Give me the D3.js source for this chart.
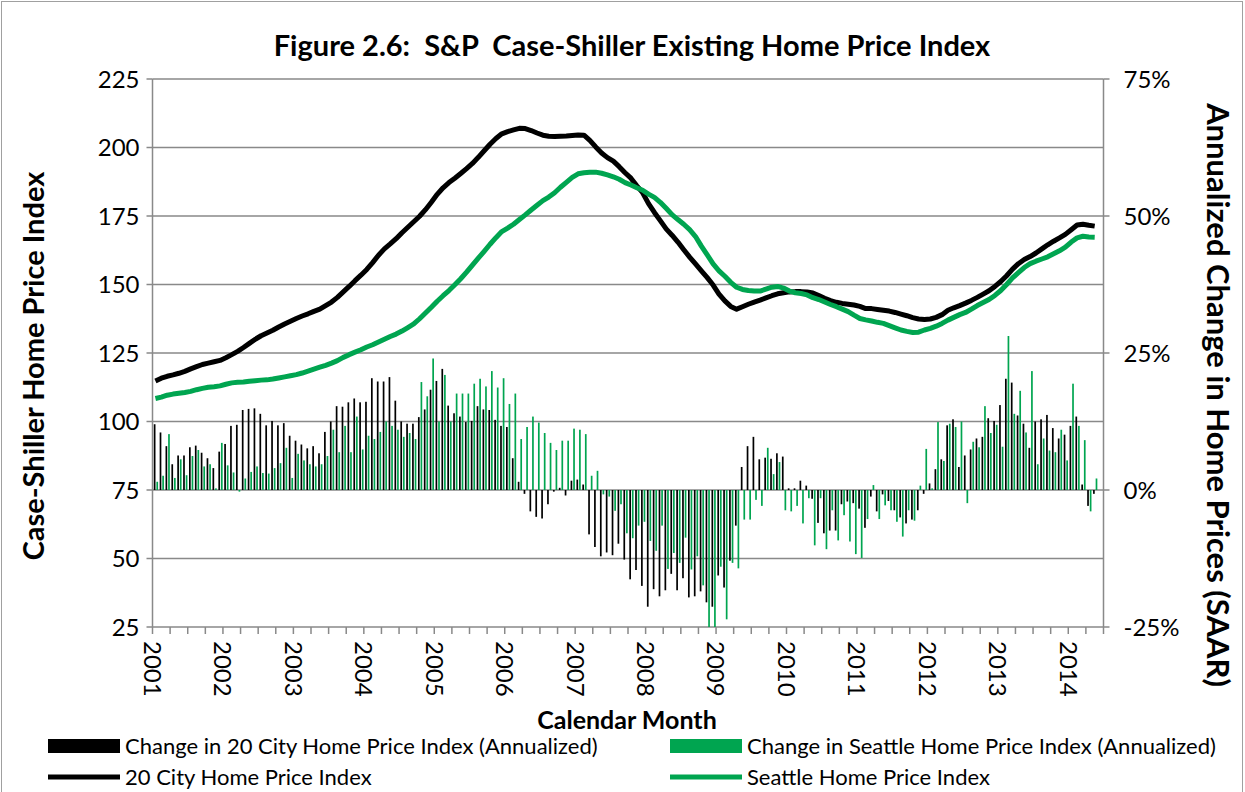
<!DOCTYPE html>
<html>
<head>
<meta charset="utf-8">
<script src="https://cdn.jsdelivr.net/npm/d3@7"></script>
<style>
  body { margin: 0; background: #fff; }
  svg { display: block; font-family: Lato, "Open Sans", sans-serif; }
  text { white-space: pre; }
</style>
</head>
<body>
<svg id="chart" width="1245" height="792"></svg>
<script>
// monthly categories, Jan 2001 .. Jun 2014 (last slot has no data)
const months = d3.timeMonths(new Date(2001, 0, 1), new Date(2014, 6, 1));
const yearLabels = ["2001","2002","2003","2004","2005","2006","2007","2008","2009","2010","2011","2012","2013","2014"];
const leftTicks = [25, 50, 75, 100, 125, 150, 175, 200, 225];
const rightTicks = [-25, 0, 25, 50, 75];

// S&P Case-Shiller 20 city composite (SA)
const cityIndex = [
  114.8,115.8,116.5,117.0,117.6,118.3,119.2,120.0,120.8,121.3,121.8,122.3,
  123.3,124.4,125.6,127.0,128.5,130.0,131.3,132.3,133.3,134.5,135.6,136.6,
  137.6,138.5,139.3,140.2,141.0,142.3,143.6,145.3,147.3,149.3,151.4,153.4,
  155.5,158.0,160.7,163.0,164.8,166.7,168.9,170.9,172.9,174.9,177.3,180.0,
  182.9,185.3,187.2,188.8,190.5,192.3,194.2,196.4,198.8,201.2,203.3,205.0,
  205.8,206.4,207.0,206.9,206.2,205.3,204.5,204.1,204.0,204.1,204.2,204.4,
  204.6,204.5,202.6,200.2,198.0,196.3,195.0,193.0,190.8,188.8,186.0,183.5,
  179.5,176.3,173.3,170.3,168.0,165.5,162.7,160.0,157.5,155.0,152.5,149.8,
  146.5,144.0,142.0,141.0,141.9,142.8,143.6,144.3,145.1,145.9,146.6,147.0,
  147.3,147.4,147.4,147.3,146.9,146.0,145.0,144.1,143.5,143.1,142.8,142.5,
  142.0,141.2,141.2,140.9,140.6,140.3,139.8,139.2,138.6,137.9,137.4,137.2,
  137.4,138.0,139.0,140.6,141.5,142.3,143.2,144.2,145.3,146.5,147.7,149.3,
  151.1,153.2,155.6,157.6,159.1,160.2,161.5,163.0,164.5,165.8,167.0,168.3,
  170.0,171.7,172.0,171.6,171.3
];

// Seattle home price index (SA)
const seattleIndex = [
  108.4,108.9,109.6,110.0,110.3,110.6,111.0,111.6,112.1,112.5,112.7,113.0,
  113.6,114.1,114.3,114.4,114.7,114.9,115.1,115.2,115.5,115.9,116.3,116.7,
  117.1,117.7,118.4,119.1,119.8,120.5,121.3,122.2,123.4,124.4,125.3,126.2,
  127.2,128.0,129.0,130.0,131.0,131.9,133.0,134.3,135.6,137.5,139.6,141.7,
  143.9,145.9,147.8,149.9,152.1,154.5,157.1,159.6,162.1,164.7,167.1,169.3,
  170.6,172.0,173.7,175.4,177.2,178.9,180.6,181.9,183.5,185.5,187.3,189.1,
  190.4,190.8,191.0,191.0,190.6,190.0,189.3,188.4,187.2,186.3,185.3,184.4,
  183.0,181.8,180.0,177.8,175.5,173.7,172.0,170.0,167.5,164.0,160.8,157.5,
  155.0,153.0,150.8,149.0,148.2,147.8,147.6,147.6,148.3,149.0,149.3,148.7,
  147.6,147.0,146.7,146.2,145.2,144.5,143.6,142.7,141.9,141.0,140.1,138.8,
  137.6,137.1,136.7,136.2,135.8,135.0,134.2,133.4,132.9,132.5,132.6,133.4,
  134.0,134.8,135.8,137.0,138.0,139.0,139.8,141.0,142.3,143.4,144.5,146.0,
  147.8,150.0,152.4,154.3,156.2,157.6,158.5,159.3,160.1,161.2,162.3,163.6,
  165.5,167.0,167.6,167.3,167.2
];

// annualized monthly change, percent
const cityChange = [
  12.0,10.5,8.0,4.7,6.3,6.3,7.8,8.1,6.8,5.8,4.0,7.0,
  8.4,11.7,11.9,14.6,14.8,14.9,13.9,11.8,12.6,11.8,12.2,9.9,
  9.0,8.3,7.6,8.0,6.7,10.6,12.5,15.3,15.2,16.0,16.7,16.0,
  16.1,20.4,19.8,19.8,20.6,16.3,12.5,12.1,12.1,13.3,14.7,18.3,
  19.9,22.1,15.4,14.0,13.4,12.4,12.6,15.3,14.7,14.6,12.8,11.7,
  11.5,5.8,1.5,-0.7,-3.9,-4.9,-5.2,-2.6,-0.3,0.4,-1.0,1.7,
  1.9,1.0,-8.1,-10.4,-12.1,-11.4,-11.9,-9.8,-12.7,-16.3,-14.6,-17.5,
  -21.3,-18.1,-19.4,-18.3,-15.3,-18.3,-16.1,-19.6,-19.4,-18.5,-20.5,-21.3,
  -15.6,-17.8,-12.9,-6.5,4.2,8.0,9.7,5.6,5.9,5.7,6.7,6.1,
  0.3,0.3,1.7,0.8,-1.6,-6.0,-7.9,-7.4,-7.4,-2.6,-2.1,-2.4,
  -3.4,-6.9,-1.2,-3.9,-0.8,-2.0,-3.7,-5.0,-6.1,-5.4,-3.7,-0.7,
  1.2,3.8,5.6,11.8,12.9,4.2,6.3,7.4,9.4,9.7,13.1,12.6,
  15.5,20.3,19.6,13.6,12.1,7.7,12.5,12.9,13.7,11.3,9.4,10.1,
  11.7,13.4,1.0,-2.9,-0.7
];

const seattleChange = [
  1.5,2.6,10.2,2.2,5.6,2.7,6.2,7.3,4.3,4.7,0.3,8.6,
  4.5,3.2,-0.3,2.1,3.3,4.3,3.1,3.0,4.0,4.9,7.7,2.2,
  6.6,5.4,4.7,4.3,4.7,6.2,11.0,6.9,11.7,6.9,13.4,7.4,
  9.9,9.3,10.6,12.5,11.7,11.0,9.7,10.4,9.3,19.7,17.1,24.0,
  12.5,21.0,12.5,17.6,17.6,17.6,19.4,20.3,18.9,21.7,18.7,20.4,
  15.7,17.6,9.3,11.5,13.4,12.3,10.4,8.6,7.3,9.0,9.0,11.2,
  11.0,10.2,2.6,3.5,-0.8,-1.2,-3.8,-2.6,-7.9,-8.8,-6.5,-5.8,
  -9.3,-11.1,-6.5,-14.4,-11.5,-13.3,-8.7,-14.5,-12.1,-17.4,-25.5,-25.5,
  -14.0,-23.6,-13.3,-14.3,-5.4,-5.4,-1.8,-2.9,7.7,2.9,5.1,-3.7,
  -3.9,-2.9,-6.1,-1.5,-10.1,-1.5,-10.8,-3.7,-9.2,-4.6,-9.4,-11.7,
  -12.4,-5.3,0.9,-5.3,-2.8,-3.7,-5.8,-8.5,-3.7,-5.6,0.8,7.5,
  0.3,12.4,5.3,12.1,11.5,12.5,-2.4,8.8,7.8,15.3,10.4,11.9,
  7.9,28.1,13.9,18.1,10.5,21.7,4.7,9.4,7.2,6.9,11.0,5.4,
  19.4,11.7,9.1,-3.9,2.1
];

const BLACK = "#000000";
const GREEN = "#00a550";
const GRID = "#898989";

const svg = d3.select("#chart");
const margin = { left: 152.5, right: 1103.5, top: 79, bottom: 627 };

const x = d3.scaleBand()
  .domain(d3.range(months.length))
  .range([margin.left, margin.right])
  .padding(0);
const bw = x.bandwidth();
const cx = i => x(i) + bw / 2;

const yLeft = d3.scaleLinear().domain([25, 225]).range([margin.bottom, margin.top]);
const yRight = d3.scaleLinear().domain([-25, 75]).range([margin.bottom, margin.top]);

// outer chart border
svg.append("rect")
  .attr("x", 1.5).attr("y", 1.5)
  .attr("width", 1241).attr("height", 800)
  .attr("fill", "none").attr("stroke", "#a0a0a0").attr("stroke-width", 1);

// gridlines
svg.append("g")
  .selectAll("line")
  .data(leftTicks)
  .enter().append("line")
  .attr("x1", margin.left).attr("x2", margin.right)
  .attr("y1", d => yLeft(d)).attr("y2", d => yLeft(d))
  .attr("stroke", GRID).attr("stroke-width", 1.5);

// vertical axis lines
[margin.left, margin.right].forEach(px => {
  svg.append("line")
    .attr("x1", px).attr("x2", px)
    .attr("y1", margin.top).attr("y2", margin.bottom)
    .attr("stroke", GRID).attr("stroke-width", 1.5);
});

// tick marks on the left / right axes
svg.append("g").selectAll("line").data(leftTicks).enter().append("line")
  .attr("x1", margin.left - 6).attr("x2", margin.left)
  .attr("y1", d => yLeft(d)).attr("y2", d => yLeft(d))
  .attr("stroke", GRID).attr("stroke-width", 1.5);
svg.append("g").selectAll("line").data(rightTicks).enter().append("line")
  .attr("x1", margin.right).attr("x2", margin.right + 6)
  .attr("y1", d => yRight(d)).attr("y2", d => yRight(d))
  .attr("stroke", GRID).attr("stroke-width", 1.5);

// x tick marks, one every quarter
const quarterIdx = d3.range(0, months.length + 1, 3);
svg.append("g").selectAll("line").data(quarterIdx).enter().append("line")
  .attr("x1", d => margin.left + d * bw).attr("x2", d => margin.left + d * bw)
  .attr("y1", margin.bottom).attr("y2", margin.bottom + 7)
  .attr("stroke", GRID).attr("stroke-width", 1.5);

// clip for bars
svg.append("clipPath").attr("id", "plotClip")
  .append("rect")
  .attr("x", margin.left).attr("y", margin.top)
  .attr("width", margin.right - margin.left)
  .attr("height", margin.bottom - margin.top);

const bars = svg.append("g").attr("clip-path", "url(#plotClip)");
const barW = 1.7;

bars.selectAll(".cityBar")
  .data(cityChange)
  .enter().append("rect")
  .attr("class", "cityBar")
  .attr("x", (d, i) => cx(i) - 0.8 - barW / 2)
  .attr("width", barW)
  .attr("y", d => yRight(Math.max(0, d)))
  .attr("height", d => Math.abs(yRight(d) - yRight(0)))
  .attr("fill", BLACK);

bars.selectAll(".seaBar")
  .data(seattleChange)
  .enter().append("rect")
  .attr("class", "seaBar")
  .attr("x", (d, i) => cx(i) + 1.8 - barW / 2)
  .attr("width", barW)
  .attr("y", d => yRight(Math.max(0, d)))
  .attr("height", d => Math.abs(yRight(d) - yRight(0)))
  .attr("fill", GREEN);

// index lines
const line = d3.line()
  .x((d, i) => cx(i))
  .y(d => yLeft(d));

svg.append("path")
  .datum(cityIndex)
  .attr("d", line)
  .attr("fill", "none")
  .attr("stroke", BLACK)
  .attr("stroke-width", 5)
  .attr("stroke-linejoin", "round");

svg.append("path")
  .datum(seattleIndex)
  .attr("d", line)
  .attr("fill", "none")
  .attr("stroke", GREEN)
  .attr("stroke-width", 5)
  .attr("stroke-linejoin", "round");

// axis labels
svg.append("g").selectAll("text").data(leftTicks).enter().append("text")
  .attr("x", margin.left - 13)
  .attr("y", d => yLeft(d))
  .attr("dy", "0.36em")
  .attr("text-anchor", "end")
  .attr("font-size", 24)
  .text(d => d);

svg.append("g").selectAll("text").data(rightTicks).enter().append("text")
  .attr("x", margin.right + 20)
  .attr("y", d => yRight(d))
  .attr("dy", "0.36em")
  .attr("text-anchor", "start")
  .attr("font-size", 24)
  .text(d => d + "%");

svg.append("g").selectAll("text").data(yearLabels).enter().append("text")
  .attr("transform", (d, i) => `translate(${margin.left + i * 12 * bw},${margin.bottom + 14}) rotate(90)`)
  .attr("dy", "0.36em")
  .attr("text-anchor", "start")
  .attr("font-size", 24)
  .text(d => d);

// titles
svg.append("text")
  .attr("x", 632).attr("y", 56)
  .attr("text-anchor", "middle")
  .attr("font-size", 29).attr("font-weight", "bold")
  .text("Figure 2.6:  S&P  Case-Shiller Existing Home Price Index");

svg.append("text")
  .attr("transform", "translate(44,366) rotate(-90)")
  .attr("text-anchor", "middle")
  .attr("font-size", 29).attr("font-weight", "bold")
  .text("Case-Shiller Home Price Index");

svg.append("text")
  .attr("transform", "translate(1207,395) rotate(90)")
  .attr("text-anchor", "middle")
  .attr("font-size", 31).attr("font-weight", "bold")
  .text("Annualized Change in Home Prices (SAAR)");

svg.append("text")
  .attr("x", 627).attr("y", 729)
  .attr("text-anchor", "middle")
  .attr("font-size", 25).attr("font-weight", "bold")
  .text("Calendar Month");

// legend
const legendItems = [
  { label: "Change in 20 City Home Price Index (Annualized)", color: BLACK, type: "bar", x: 48, y: 746 },
  { label: "Change in Seattle Home Price Index (Annualized)", color: GREEN, type: "bar", x: 670, y: 746 },
  { label: "20 City Home Price Index", color: BLACK, type: "line", x: 48, y: 777 },
  { label: "Seattle Home Price Index", color: GREEN, type: "line", x: 670, y: 777 },
];

const legend = svg.append("g").selectAll("g").data(legendItems).enter().append("g")
  .attr("transform", d => `translate(${d.x},${d.y})`);

legend.filter(d => d.type === "bar").append("rect")
  .attr("x", 0).attr("y", -7).attr("width", 72).attr("height", 14)
  .attr("fill", d => d.color);

legend.filter(d => d.type === "line").append("line")
  .attr("x1", 0).attr("x2", 72).attr("y1", 0).attr("y2", 0)
  .attr("stroke", d => d.color).attr("stroke-width", 5);

legend.append("text")
  .attr("x", 77).attr("y", 0).attr("dy", "0.36em")
  .attr("font-size", 22)
  .text(d => d.label);
</script>
</body>
</html>
